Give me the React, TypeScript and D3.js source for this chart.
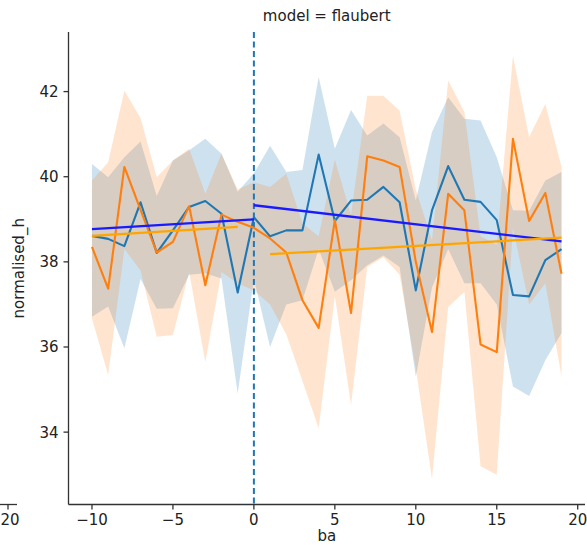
import React from "react";
import * as d3 from "d3";

const ba = [-10, -9, -8, -7, -6, -5, -4, -3, -2, -1, 0, 1, 2, 3, 4, 5, 6, 7, 8, 9, 10, 11, 12, 13, 14, 15, 16, 17, 18, 19];

const blueMean = [38.61, 38.54, 38.37, 39.4, 38.21, 38.74, 39.29, 39.43, 39.13, 37.28, 39.05, 38.6, 38.74, 38.74, 40.52, 38.96, 39.44, 39.46, 39.76, 39.4, 37.33, 39.21, 40.25, 39.46, 39.41, 38.98, 37.22, 37.19, 38.04, 38.3];
const blueUpper = [40.3, 39.99, 40.46, 40.83, 39.55, 40.38, 40.62, 40.89, 40.54, 39.65, 40.08, 40.73, 40.11, 40.16, 42.34, 40.66, 41.57, 40.97, 41.25, 40.93, 39.44, 41.05, 41.87, 41.36, 41.32, 40.46, 39.21, 39.2, 39.91, 40.11];
const blueLower = [36.71, 36.95, 35.97, 37.6, 36.9, 36.91, 37.7, 37.73, 37.61, 34.91, 37.6, 36.0, 37.0, 37.1, 38.3, 37.3, 37.57, 37.92, 38.15, 37.88, 35.3, 37.4, 38.3, 37.5, 37.5, 37.0, 35.07, 34.85, 35.69, 36.33];

const orangeMean = [38.35, 37.37, 40.23, 39.22, 38.22, 38.47, 39.31, 37.45, 39.11, 38.94, 38.8, 38.55, 38.22, 37.1, 36.45, 38.98, 36.8, 40.48, 40.38, 40.23, 38.0, 36.35, 39.6, 39.21, 36.06, 35.88, 40.89, 38.96, 39.62, 37.72];
const orangeUpper = [39.91, 40.34, 42.02, 41.38, 39.99, 40.38, 40.66, 39.6, 40.54, 39.7, 39.87, 39.76, 40.07, 38.9, 38.6, 40.4, 39.1, 41.9, 41.9, 41.55, 39.7, 38.5, 42.26, 41.52, 38.6, 38.4, 42.84, 40.93, 41.71, 40.23];
const orangeLower = [36.67, 35.34, 38.3, 37.8, 36.24, 36.28, 37.76, 35.65, 37.76, 37.5, 37.33, 37.0, 36.3, 35.2, 34.09, 37.2, 34.64, 37.88, 38.11, 37.7, 35.5, 32.9, 36.94, 37.3, 33.2, 33.0, 38.8, 37.0, 37.5, 35.3];

// fitted lines before / after ba = 0 (start and end points)
const blueFitBefore = [[-10, 38.77], [0, 39.0]];
const blueFitAfter = [[0, 39.33], [19, 38.48]];
const orangeFitBefore = [[-10, 38.61], [-1, 38.82]];
const orangeFitAfter = [[1, 38.18], [19, 38.57]];

const xTicks = [-10, -5, 0, 5, 10, 15, 20];
const yTicks = [34, 36, 38, 40, 42];

const W = 587;
const H = 545;
const left = 68.5, right = 585, top = 32, bottom = 504.5;
const font = "DejaVu Sans, sans-serif";
const fs = 15;

const fmt = (v: number) => (v < 0 ? "\u2212" + Math.abs(v) : String(v));

const App = () => {
    const x = d3.scaleLinear().domain([-11.45, 20.45]).range([left, right]);
    const y = d3.scaleLinear().domain([32.3, 43.4]).range([bottom, top]);

    const band = (lo: number[], hi: number[]) =>
        d3.area<number>()
            .x((d, i) => x(ba[i]))
            .y0((d, i) => y(lo[i]))
            .y1((d, i) => y(hi[i]))(ba);
    const line = (vals: number[]) =>
        d3.line<number>()
            .x((d, i) => x(ba[i]))
            .y((d, i) => y(vals[i]))(ba);
    const seg = d3.line<number[]>().x(d => x(d[0])).y(d => y(d[1]));

    return (
        <svg width={W} height={H} style={{ position: "absolute", left: 0, top: 0, background: "white" }}
            xmlns="http://www.w3.org/2000/svg" fontFamily={font}>
            {/* bits of the neighbouring facet */}
            <line x1={0} x2={17} y1={bottom} y2={bottom} stroke="#333" strokeWidth={1.3} />
            <line x1={8} x2={8} y1={bottom} y2={bottom + 5} stroke="#333" strokeWidth={1.3} />
            <text x={10} y={bottom + 20} textAnchor="middle" fontSize={fs} fill="#222">20</text>

            <path d={band(blueLower, blueUpper)!} fill="#1f77b4" fillOpacity={0.22} stroke="none" />
            <path d={band(orangeLower, orangeUpper)!} fill="#ff7f0e" fillOpacity={0.2} stroke="none" />

            <line x1={x(0)} x2={x(0)} y1={top} y2={bottom} stroke="#1f77b4" strokeWidth={2} strokeDasharray="6,3.5" />

            <path d={line(blueMean)!} fill="none" stroke="#1f77b4" strokeWidth={2.1} strokeLinejoin="round" />
            <path d={line(orangeMean)!} fill="none" stroke="#ff7f0e" strokeWidth={2.1} strokeLinejoin="round" />

            <path d={seg(blueFitBefore)!} stroke="#1a1aff" strokeWidth={2.3} fill="none" />
            <path d={seg(blueFitAfter)!} stroke="#1a1aff" strokeWidth={2.3} fill="none" />
            <path d={seg(orangeFitBefore)!} stroke="#ffa500" strokeWidth={2.3} fill="none" />
            <path d={seg(orangeFitAfter)!} stroke="#ffa500" strokeWidth={2.3} fill="none" />

            {/* axes */}
            <line x1={left} x2={left} y1={top} y2={bottom} stroke="#333" strokeWidth={1.3} />
            <line x1={left} x2={right} y1={bottom} y2={bottom} stroke="#333" strokeWidth={1.3} />
            {xTicks.map(t => (
                <g key={t}>
                    <line x1={x(t)} x2={x(t)} y1={bottom} y2={bottom + 5} stroke="#333" strokeWidth={1.3} />
                    <text x={x(t)} y={bottom + 20} textAnchor="middle" fontSize={fs} fill="#222">{fmt(t)}</text>
                </g>
            ))}
            {yTicks.map(t => (
                <g key={t}>
                    <line x1={left - 5} x2={left} y1={y(t)} y2={y(t)} stroke="#333" strokeWidth={1.3} />
                    <text x={left - 10} y={y(t)} dy="0.36em" textAnchor="end" fontSize={fs} fill="#222">{t}</text>
                </g>
            ))}
            <text x={(left + right) / 2} y={bottom + 36} textAnchor="middle" fontSize={fs} fill="#222">ba</text>
            <text transform={`translate(24 ${(top + bottom) / 2}) rotate(-90)`} textAnchor="middle" fontSize={fs} fill="#222">normalised_h</text>
            <text x={(left + right) / 2} y={21} textAnchor="middle" fontSize={fs} fill="#222">model = flaubert</text>
        </svg>
    );
};

export default App;
